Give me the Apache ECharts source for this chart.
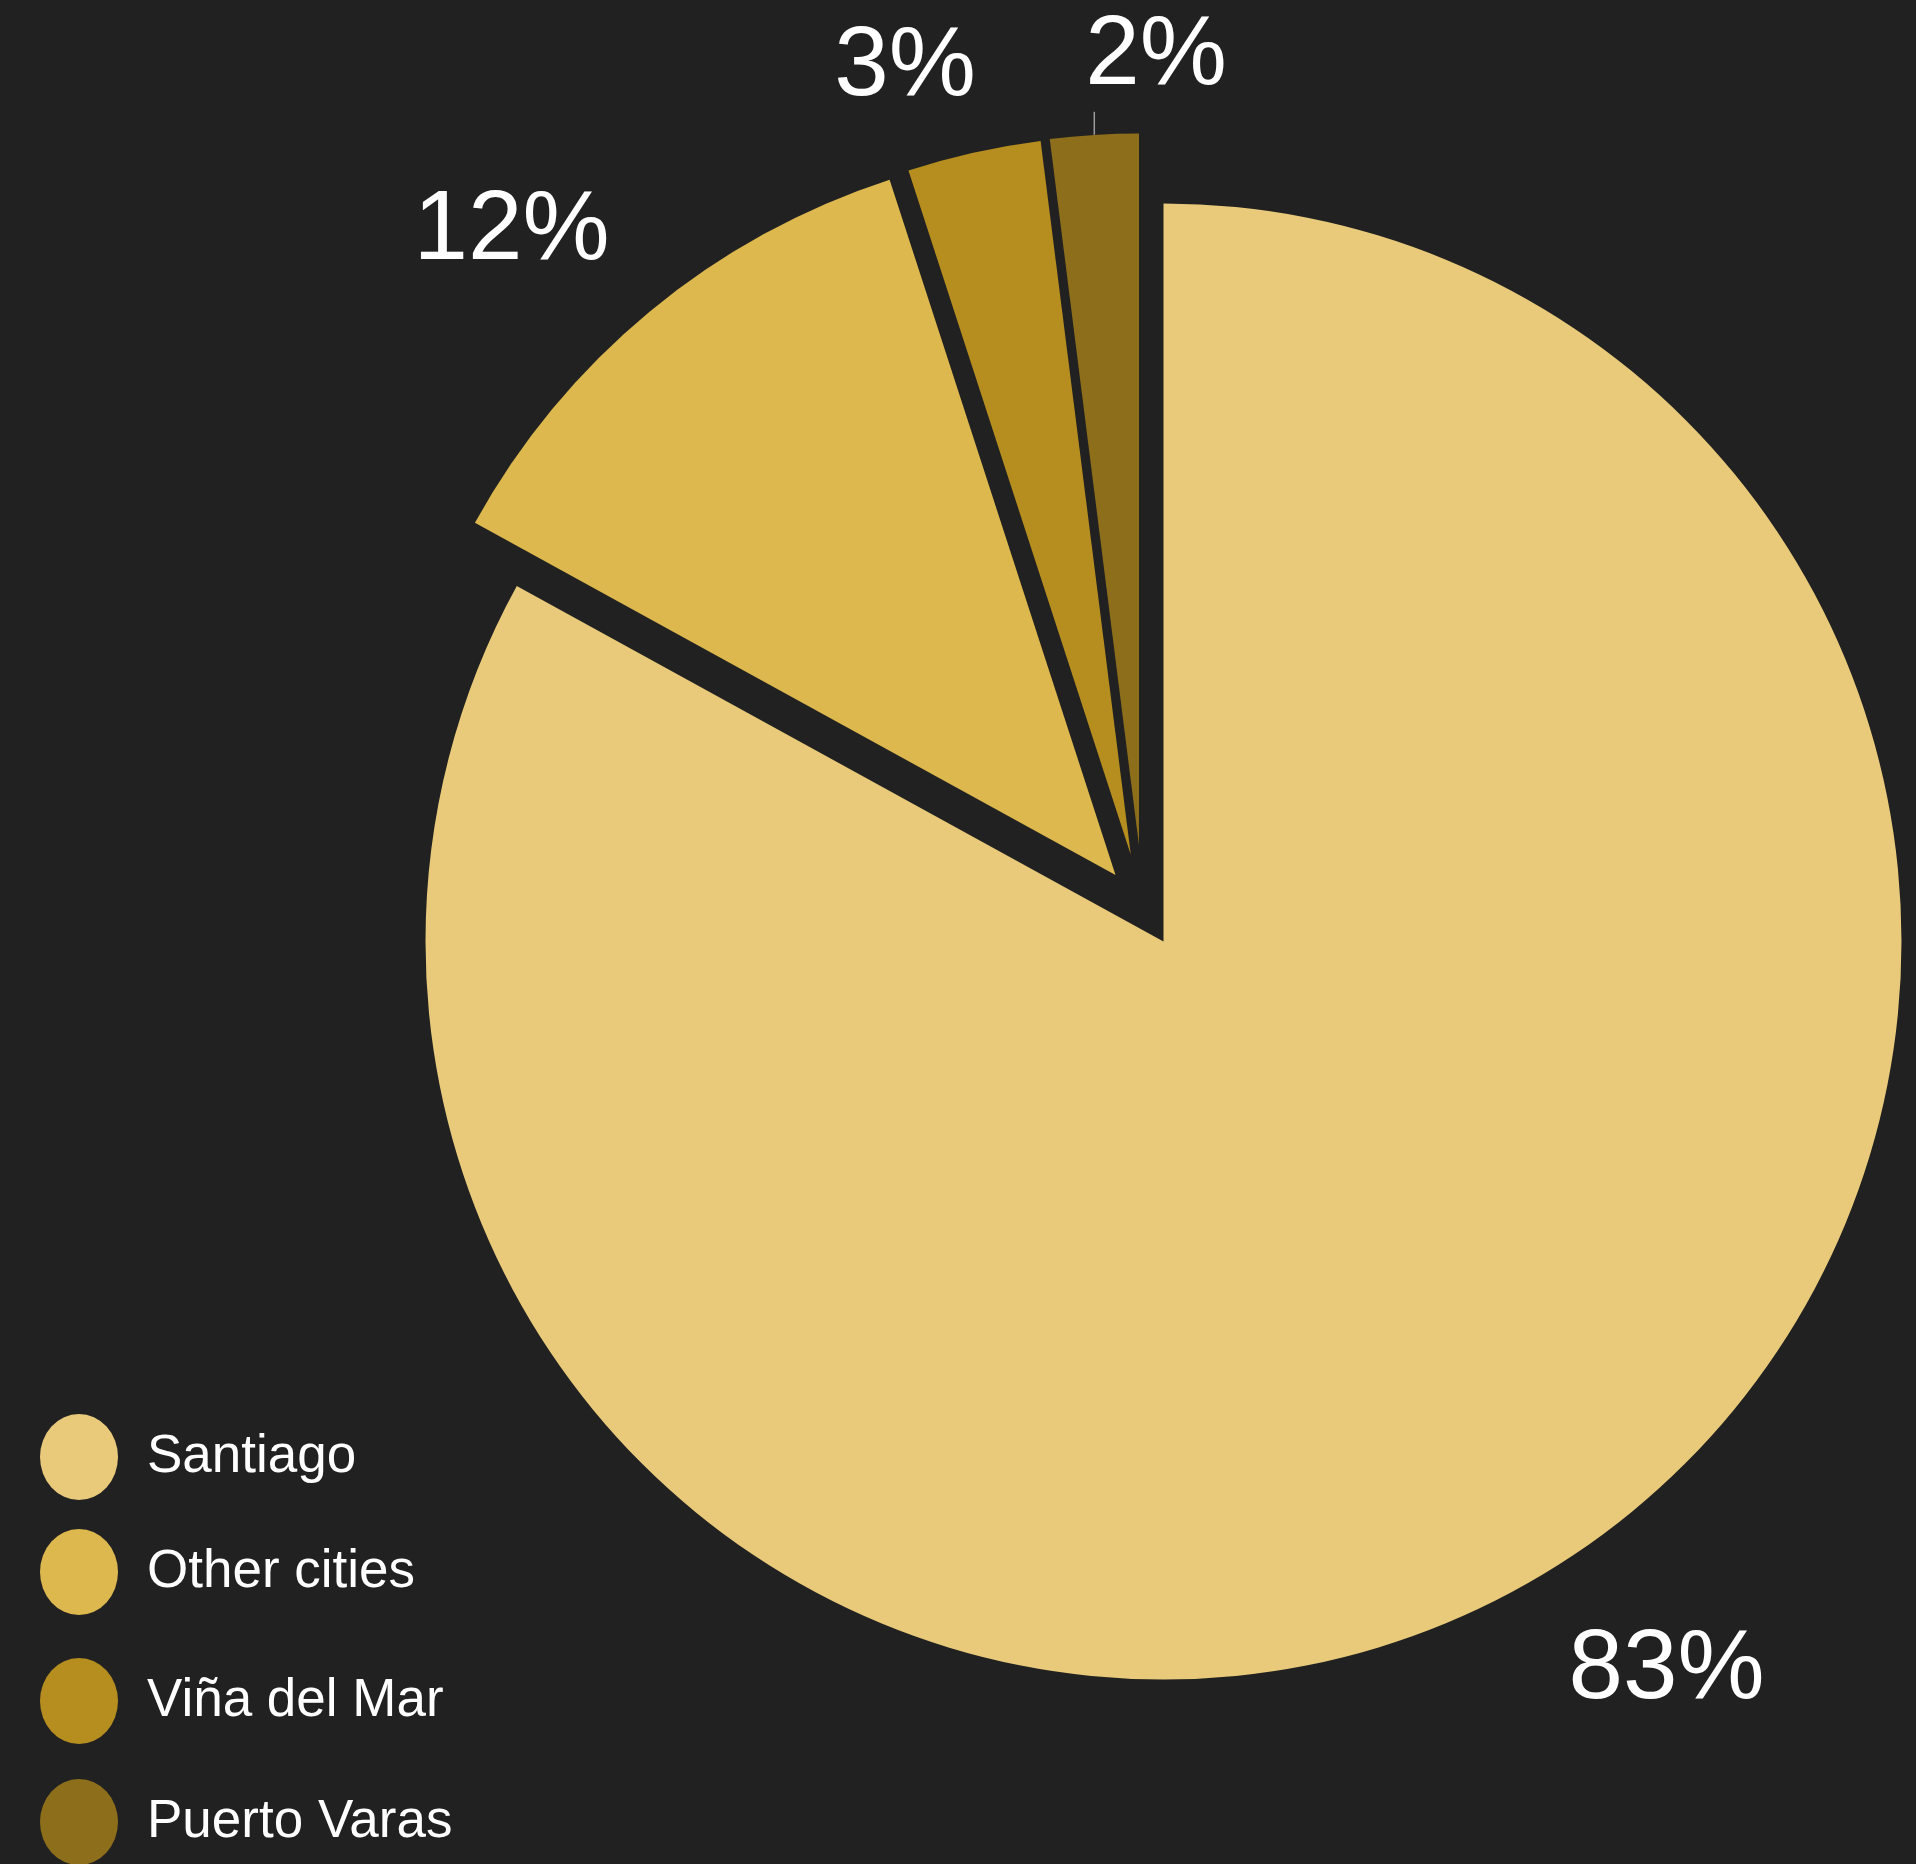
<!DOCTYPE html>
<html><head><meta charset="utf-8">
<script src="https://cdn.jsdelivr.net/npm/echarts@6/dist/echarts.min.js"></script>
<style>html,body{margin:0;padding:0;background:#212121;} #chart{width:1916px;height:1864px;}</style>
</head><body><div id="chart"></div>
<script>
// ---- data ----
const categories = ['Santiago', 'Other cities', 'Viña del Mar', 'Puerto Varas'];
const shares = [83, 12, 3, 2];

// ---- styles / layout ----
const colors = ['#E8CA7A', '#DDB84E', '#B68E1F', '#8D6E1A'];
const sliceCenters = [[1163.5, 941.5], [1115.5, 874.9], [1130.8, 854.8], [1139, 845.4]];
const sliceRadii = [738, 731, 719.5, 712];
const labelAnchors = [[1666.5, 1671], [511.5, 232], [905, 68], [1156, 57]];
const legendTops = [1414, 1529, 1658, 1779];
const FONT = '"Liberation Sans", Arial, Helvetica, sans-serif';

const total = shares.reduce((a, b) => a + b, 0);
function midAngle(i) {
  let s = 0;
  for (let j = 0; j < i; j++) s += shares[j];
  return (s + shares[i] / 2) / total * Math.PI * 2;
}

const series = categories.map((cat, k) => ({
  type: 'pie',
  center: sliceCenters[k],
  radius: sliceRadii[k],
  startAngle: 90,
  clockwise: true,
  avoidLabelOverlap: false,
  silent: true,
  animation: false,
  itemStyle: { borderWidth: 0 },
  emphasis: { disabled: true },
  label: { show: false },
  labelLine: { show: false },
  data: categories.map((c, i) => i === k ? {
    name: c,
    value: shares[i],
    itemStyle: { color: colors[i] },
    label: {
      show: true, position: 'outside', formatter: '{d}%',
      color: '#ffffff', fontSize: 98, fontFamily: FONT
    },
    labelLine: {
      show: i === 3, length: 23, length2: 0,
      lineStyle: { color: '#9a9a9a', width: 1.5 }
    }
  } : {
    name: '',
    value: shares[i],
    itemStyle: { color: 'rgba(0,0,0,0)' },
    label: { show: false },
    labelLine: { show: false }
  }),
  labelLayout: function (p) {
    if (p.dataIndex !== k) return {};
    const r = { x: labelAnchors[k][0], y: labelAnchors[k][1], align: 'center', verticalAlign: 'middle' };
    if (k === 3) {
      const a = midAngle(3), c = sliceCenters[3], R = sliceRadii[3];
      const x = c[0] + R * Math.sin(a), y = c[1] - R * Math.cos(a);
      r.labelLinePoints = [[x, y], [x, y - 23], [x, y - 23]];
    }
    return r;
  }
}));

const legends = categories.map((c, i) => ({
  left: 40, top: legendTops[i], orient: 'vertical', padding: 0,
  itemWidth: 78, itemHeight: 86,
  icon: 'path://M50,0A50,50,0,1,1,50,100A50,50,0,1,1,50,0Z',
  symbolKeepAspect: false,
  selectedMode: false,
  textStyle: { color: '#ffffff', fontSize: 53, fontFamily: FONT, padding: [0, 0, 0, 24] },
  data: [{ name: c, itemStyle: { color: colors[i] } }]
}));

const chart = echarts.init(document.getElementById('chart'), null, { renderer: 'canvas' });
chart.setOption({
  backgroundColor: '#212121',
  animation: false,
  legend: legends,
  series: series
});
</script></body></html>
